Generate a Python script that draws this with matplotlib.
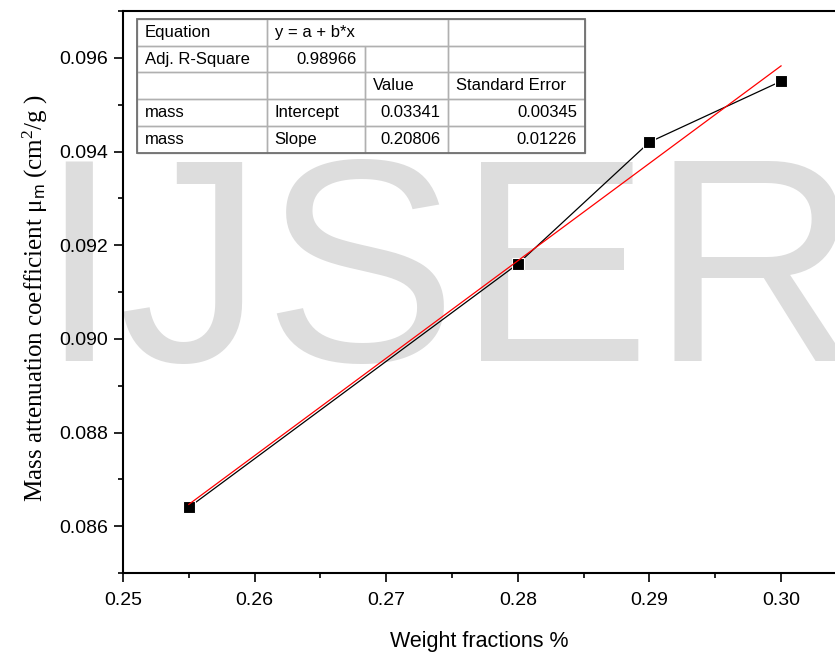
import matplotlib
matplotlib.use("Agg")
import matplotlib.pyplot as plt
from matplotlib.patches import Rectangle
from matplotlib.ticker import MultipleLocator, FormatStrFormatter

# data
weight_fraction = [0.255, 0.28, 0.29, 0.30]
mass_atten = [0.0864, 0.0916, 0.0942, 0.0955]

# linear fit results (from the fit table)
intercept = 0.03341
slope = 0.20806
intercept_err = 0.00345
slope_err = 0.01226
adj_r2 = 0.98966

fit_x = [weight_fraction[0], weight_fraction[-1]]
fit_y = [intercept + slope * x for x in fit_x]

plt.rcParams["font.family"] = ["Liberation Sans", "DejaVu Sans"]
plt.rcParams["mathtext.fontset"] = "custom"
plt.rcParams["mathtext.rm"] = "Liberation Serif"
plt.rcParams["mathtext.it"] = "Liberation Serif:italic"
plt.rcParams["mathtext.sf"] = "Liberation Sans"

W, H = 835, 654
fig = plt.figure(figsize=(W / 100, H / 100), dpi=100)

# watermark behind everything
fig.text(38 / W, 1 - 361 / H, "IJSER", fontsize=209, color="#dddddd",
         family="Liberation Sans", ha="left", va="baseline", zorder=-5)

ax = fig.add_axes([123 / W, 81 / H, 712 / W, 562 / H])
ax.set_facecolor("none")

ax.plot(weight_fraction, mass_atten, color="black", lw=0.9, marker="s",
        markersize=9, markerfacecolor="black", markeredgecolor="white",
        markeredgewidth=0.8, zorder=3)
ax.plot(fit_x, fit_y, color="red", lw=0.9, zorder=4)

ax.set_xlim(0.25, 0.3041)
ax.set_ylim(0.085, 0.097)
ax.xaxis.set_major_locator(MultipleLocator(0.01))
ax.xaxis.set_minor_locator(MultipleLocator(0.005))
ax.yaxis.set_major_locator(MultipleLocator(0.002))
ax.yaxis.set_minor_locator(MultipleLocator(0.001))
ax.xaxis.set_major_formatter(FormatStrFormatter("%.2f"))
ax.yaxis.set_major_formatter(FormatStrFormatter("%.3f"))

for side in ["left", "bottom", "top"]:
    ax.spines[side].set_linewidth(1.5)
ax.spines["right"].set_visible(False)

ax.tick_params(which="major", direction="out", length=6.5, width=1.2,
               labelsize=14)
ax.tick_params(which="minor", direction="out", length=3.5, width=1.2)
ax.tick_params(axis="x", which="major", pad=7)
ax.tick_params(axis="y", which="major", pad=4)

ax.set_xlabel("Weight fractions %", fontsize=15.5)
ax.xaxis.set_label_coords(0.5, -0.103)
ax.set_ylabel("Mass attenuation coefficient μ$_\\mathsf{m}$ (cm$^2$/g )",
              fontsize=18, family=["Liberation Serif", "DejaVu Serif"])
ax.yaxis.set_label_coords(-0.102, 0.49)

# fit summary table
cells = [
    ["Equation", "y = a + b*x", "", ""],
    ["Adj. R-Square", f"{adj_r2:.5f}", "", ""],
    ["", "", "Value", "Standard Error"],
    ["mass", "Intercept", f"{intercept:.5f}", f"{intercept_err:.5f}"],
    ["mass", "Slope", f"{slope:.5f}", f"{slope_err:.5f}"],
]
aligns = [
    ["left", "left", "left", "left"],
    ["left", "right", "left", "left"],
    ["left", "left", "left", "left"],
    ["left", "left", "right", "right"],
    ["left", "left", "right", "right"],
]
col_w = [130, 98.3, 83, 137]
tot = sum(col_w)
x0, x1 = 0.0192, 0.6489
y0, y1 = 0.7479, 0.9858
tbl = ax.table(cellText=cells, bbox=[x0, y0, x1 - x0, y1 - y0],
               colWidths=[c / tot for c in col_w], zorder=5)
tbl.auto_set_font_size(False)
tbl.set_fontsize(12)
for (r, c), cell in tbl.get_celld().items():
    cell.set_edgecolor("#b0b0b0")
    cell.set_linewidth(1.0)
    cell.set_facecolor("none")
    cell.PAD = 8 / col_w[c]
    cell._loc = aligns[r][c]
    cell.get_text().set_ha(aligns[r][c])
tbl[0, 1].visible_edges = "BTL"
tbl[0, 2].visible_edges = "BTR"
ax.add_patch(Rectangle((x0, y0), x1 - x0, y1 - y0, transform=ax.transAxes,
                       fill=False, edgecolor="#707070", lw=1.3, zorder=6))

fig.savefig("out.png", dpi=100)
